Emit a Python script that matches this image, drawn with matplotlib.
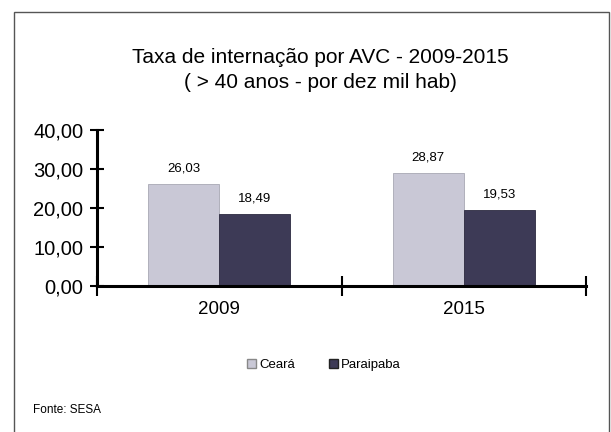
import numpy as np
import matplotlib
matplotlib.use("Agg")
import matplotlib.pyplot as plt
from matplotlib.patches import Patch, Rectangle

# data
years = ["2009", "2015"]
ceara = [26.03, 28.87]
paraipaba = [18.49, 19.53]
series_names = ["Ceará", "Paraipaba"]
y_ticks = [0, 10, 20, 30, 40]

plt.rcParams['font.family'] = ['Liberation Sans', 'DejaVu Sans']
narrow = ['Liberation Sans Narrow', 'Liberation Sans', 'DejaVu Sans']

col_ceara = '#c9c8d6'
col_para = '#3d3a56'

fig = plt.figure(figsize=(6.11, 4.32), dpi=100)
ax = fig.add_axes([0.159, 0.338, 0.800, 0.361])

x = np.arange(len(years))
w = 0.29
b1 = ax.bar(x - w/2, ceara, w, color=col_ceara, edgecolor='#a8a8b4', linewidth=0.6)
b2 = ax.bar(x + w/2, paraipaba, w, color=col_para, edgecolor='#2c2a40', linewidth=0.6)

def fmt(v):
    return f"{v:.2f}".replace('.', ',')

for bars, vals in [(b1, ceara), (b2, paraipaba)]:
    for r, v in zip(bars, vals):
        ax.annotate(fmt(v), (r.get_x() + r.get_width()/2, v), xytext=(0, 7),
                    textcoords='offset points', ha='center', va='bottom', fontsize=9.5)

ax.set_ylim(0, 40)
ax.set_xlim(-0.5, len(years) - 0.5)
ax.set_yticks(y_ticks)
ax.set_yticklabels([fmt(t) for t in y_ticks], fontsize=14.5)

# category boundaries carry the tick marks, labels sit on minor ticks
ax.set_xticks(np.arange(-0.5, len(years), 1.0))
ax.set_xticklabels([])
ax.set_xticks(x, minor=True)
ax.set_xticklabels(years, minor=True, fontsize=13.5)
ax.tick_params(axis='x', which='major', direction='inout', length=14, width=1.5)
ax.tick_params(axis='x', which='minor', length=0, pad=11)
ax.tick_params(axis='y', direction='inout', length=10, width=1.5, pad=5)

for s in ['top', 'right']:
    ax.spines[s].set_visible(False)
ax.spines['left'].set_linewidth(2.2)
ax.spines['bottom'].set_linewidth(2.2)

fig.text(0.524, 0.866, "Taxa de internação por AVC - 2009-2015", ha='center', va='center',
         fontsize=15, family=narrow)
fig.text(0.524, 0.81, "( > 40 anos - por dez mil hab)", ha='center', va='center',
         fontsize=15, family=narrow)

handles = [Patch(facecolor=col_ceara, edgecolor='#888'), Patch(facecolor=col_para, edgecolor='#222')]
fig.legend(handles, series_names, loc='center', bbox_to_anchor=(0.53, 0.155), ncol=2,
           frameon=False, fontsize=9.5, handlelength=0.7, handleheight=0.7,
           handletextpad=0.2, columnspacing=2.6)

fig.text(0.054, 0.05, "Fonte: SESA", ha='left', va='center', fontsize=8.5, family=narrow)

# outer frame of the scanned chart
fig.add_artist(Rectangle((0.023, -0.1), 0.974, 1.072, transform=fig.transFigure,
                         fill=False, edgecolor='#555555', linewidth=1.0))

fig.savefig("out.png", dpi=100)
